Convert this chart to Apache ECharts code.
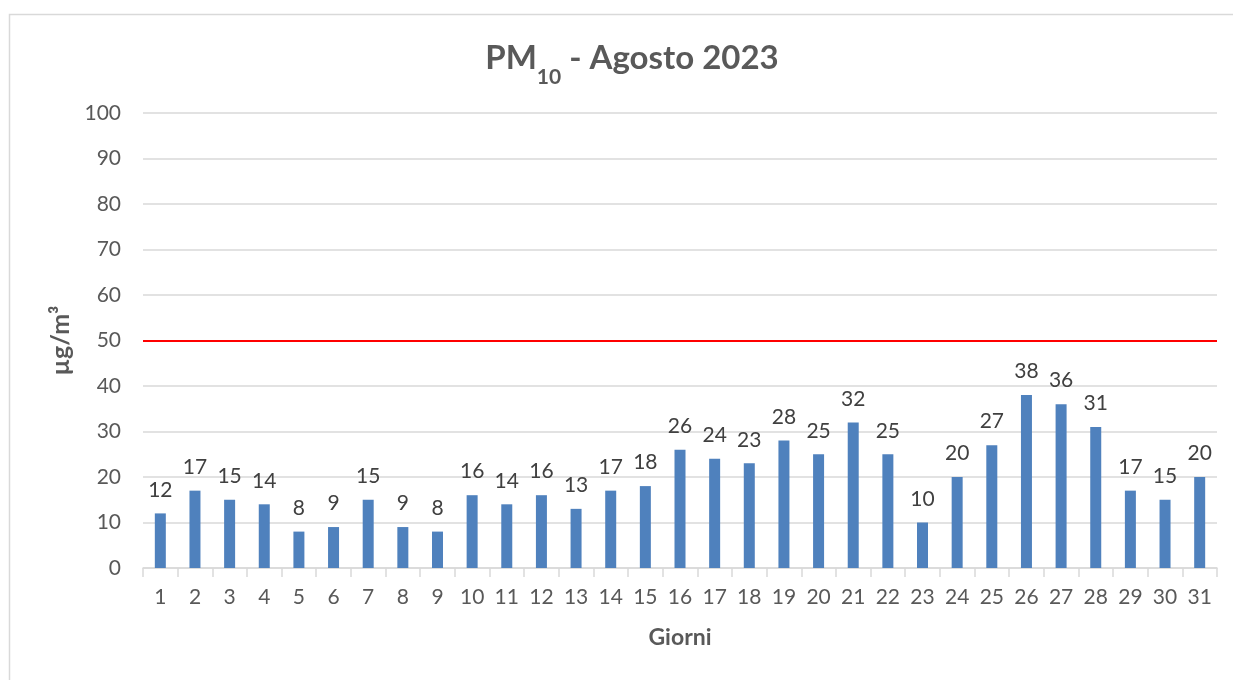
<!DOCTYPE html>
<html>
<head>
<meta charset="utf-8">
<script src="https://cdn.jsdelivr.net/npm/echarts@6/dist/echarts.min.js"></script>
<style>html,body{margin:0;padding:0;background:#fff}#c{width:1233px;height:680px}</style>
</head>
<body>
<div id="c"></div>
<script>
const days = ['1','2','3','4','5','6','7','8','9','10','11','12','13','14','15','16','17','18','19','20','21','22','23','24','25','26','27','28','29','30','31'];
const pm10 = [12,17,15,14,8,9,15,9,8,16,14,16,13,17,18,26,24,23,28,25,32,25,10,20,27,38,36,31,17,15,20];
const limitValue = 50;
const yTicks = {min: 0, max: 100, interval: 10};

const FONT = 'Lato, "Open Sans", sans-serif';
const chart = echarts.init(document.getElementById('c'));
chart.setOption({
  animation: false,
  graphic: [{
    type: 'rect',
    shape: {x: 9.5, y: 14.5, width: 1240, height: 680},
    style: {fill: 'none', stroke: '#d9d9d9', lineWidth: 1.5}
  }],
  title: {
    text: '{a|PM}{s|10}{a| - Agosto 2023}',
    left: 627, top: 23, textAlign: 'center',
    textStyle: {
      rich: {
        a: {fontFamily: FONT, fontSize: 33, fontWeight: 'bold', color: '#595959', lineHeight: 42, verticalAlign: 'middle'},
        s: {fontFamily: FONT, fontSize: 21, fontWeight: 'bold', color: '#595959', verticalAlign: 'bottom', lineHeight: 60}
      }
    }
  },
  grid: {left: 143, right: 16, top: 113, bottom: 112, containLabel: false},
  xAxis: {
    type: 'category',
    data: days,
    name: 'Giorni',
    nameLocation: 'middle',
    nameGap: 58,
    nameTextStyle: {fontFamily: FONT, fontSize: 23, fontWeight: 'bold', color: '#595959'},
    axisLine: {lineStyle: {color: '#d9d9d9', width: 1.5}},
    axisTick: {show: true, alignWithLabel: false, length: 9, lineStyle: {color: '#d9d9d9', width: 1.5}},
    axisLabel: {fontFamily: FONT, fontSize: 21, color: '#595959', margin: 19, interval: 0}
  },
  yAxis: {
    type: 'value',
    min: yTicks.min, max: yTicks.max, interval: yTicks.interval,
    name: 'µg/m³',
    nameLocation: 'middle',
    nameGap: 68,
    nameRotate: 90,
    nameTextStyle: {fontFamily: FONT, fontSize: 25, fontWeight: 'bold', color: '#595959'},
    axisLine: {show: false},
    axisTick: {show: false},
    axisLabel: {fontFamily: FONT, fontSize: 21, color: '#595959', margin: 22},
    splitLine: {lineStyle: {color: '#d9d9d9', width: 1.5}}
  },
  series: [{
    type: 'bar',
    data: pm10,
    barWidth: 11,
    itemStyle: {color: '#4f81bd'},
    label: {show: true, position: 'top', distance: 13, fontFamily: FONT, fontSize: 21, color: '#404040'},
    markLine: {
      silent: true,
      symbol: 'none',
      label: {show: false},
      lineStyle: {color: '#ff0000', width: 2, type: 'solid'},
      data: [{yAxis: limitValue}]
    }
  }]
});
</script>
</body>
</html>
